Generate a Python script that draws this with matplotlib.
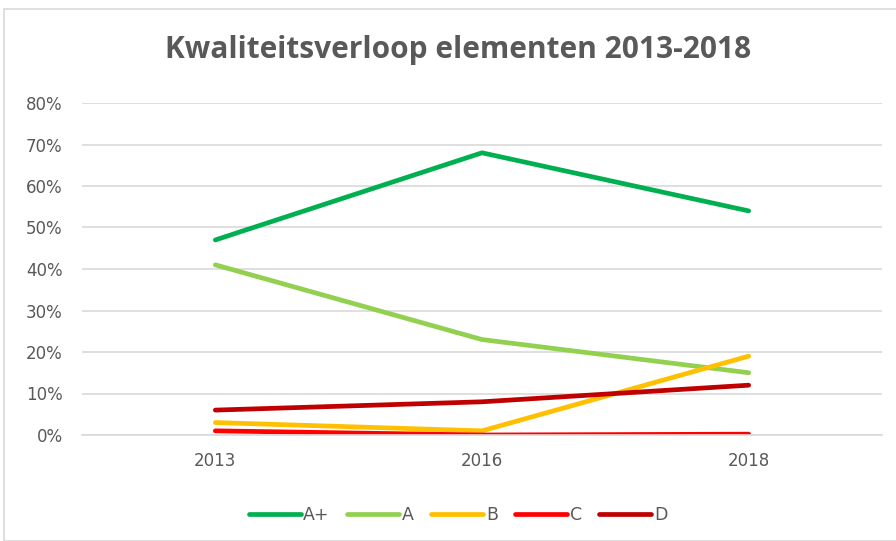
import matplotlib
matplotlib.use("Agg")
import matplotlib.pyplot as plt
from matplotlib.patches import Rectangle
from matplotlib.ticker import PercentFormatter

years = ["2013", "2016", "2018"]
series_names = ["A+", "A", "B", "C", "D"]
a_plus = [47, 68, 54]
a = [41, 23, 15]
b = [3, 1, 19]
c = [1, 0, 0.2]
d = [6, 8, 12]
colors = ["#00B050", "#92D050", "#FFC000", "#FF0000", "#C00000"]
yticks = [0, 10, 20, 30, 40, 50, 60, 70, 80]

fig = plt.figure(figsize=(8.96, 5.41), dpi=100)
fig.patch.set_facecolor("white")
fig.patches.append(Rectangle((4/896, 0.0), 1.0, 1 - 9/541, transform=fig.transFigure,
                             fill=False, edgecolor="#D9D9D9", linewidth=1.2))

ax = fig.add_axes([82/896, 1 - 435/541, 800/896, (435 - 103)/541])
x = list(range(len(years)))
for vals, name, col in zip([a_plus, a, b, c, d], series_names, colors):
    ax.plot(x, vals, color=col, linewidth=3.4, solid_capstyle="round", label=name)

ax.set_xlim(-0.5, 2.5)
ax.set_ylim(0, 80)
ax.set_yticks(yticks)
ax.yaxis.set_major_formatter(PercentFormatter(decimals=0))
ax.set_xticks(x)
ax.set_xticklabels(years)
ax.grid(axis="y", color="#D9D9D9", linewidth=1.2)
ax.set_axisbelow(True)
for s in ["top", "right", "left"]:
    ax.spines[s].set_visible(False)
ax.spines["bottom"].set_color("#D9D9D9")
ax.spines["bottom"].set_linewidth(1.2)
ax.tick_params(axis="both", length=0, colors="#595959", labelsize=12)
ax.tick_params(axis="y", pad=14)
ax.tick_params(axis="x", pad=12)

fig.text(458/896, 1 - 50/541, "Kwaliteitsverloop elementen 2013-2018", ha="center", va="center",
         fontsize=21.5, fontweight="bold", color="#595959", family="Open Sans",
         stretch="condensed")

leg = fig.legend(loc="center", bbox_to_anchor=(458/896, 1 - 515/541), ncol=5, frameon=False,
                 fontsize=12.5, handlelength=3.0, handletextpad=0.15, columnspacing=1.0)
for t in leg.get_texts():
    t.set_color("#595959")

fig.savefig("out.png", dpi=100, facecolor="white")
